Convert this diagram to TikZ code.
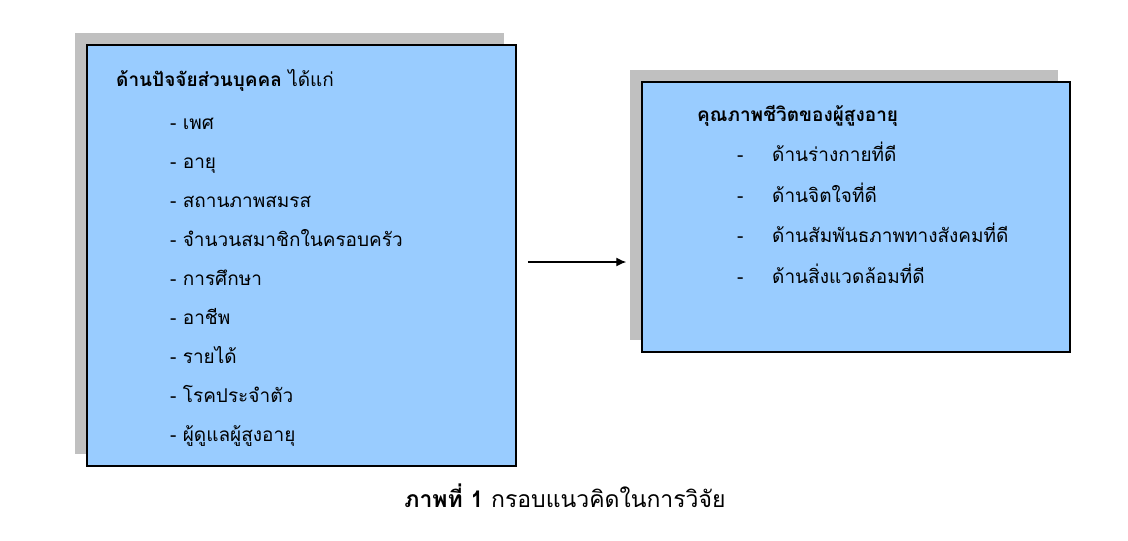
\documentclass[tikz,border=0pt]{standalone}
\usepackage{fontspec}
\setmainfont[Script=Thai]{Loma}
\usetikzlibrary{arrows.meta, positioning, shadows}
\definecolor{paleblue}{HTML}{99CCFF}
\definecolor{shadowgrey}{HTML}{C0C0C0}

\begin{document}
\begin{tikzpicture}[x=1pt, y=-1pt, node distance=39pt]
\tikzstyle{panel} = [rectangle, draw=black, line width=1.5pt, fill=paleblue, drop shadow={shadow xshift=-12pt, shadow yshift=12pt, fill=shadowgrey, opacity=1}]
\tikzstyle{head} = [text width=320pt, align=left, inner sep=0pt, text height=14pt, text depth=6pt, font=\fontsize{19}{22}\selectfont\bfseries]
\tikzstyle{item} = [head, font=\fontsize{19}{22}\selectfont]
\tikzstyle{arrow} = [-{Latex[length=10pt, width=9pt]}, line width=1.3pt]

\useasboundingbox (0,0) rectangle (1128,541);

\node (factors) [panel, minimum width=429pt, minimum height=421pt] at (301.5,255.5) {};
\node (quality) [panel, minimum width=428pt, minimum height=270pt] at (856,217) {};

\node (fhead) [head, anchor=west] at (116,82) {ด้านปัจจัยส่วนบุคคล \textmd{ได้แก่}};
\node (f1) [item, below of=fhead, xshift=54pt, yshift=-4pt] {- เพศ};
\node (f2) [item, below of=f1] {- อายุ};
\node (f3) [item, below of=f2] {- สถานภาพสมรส};
\node (f4) [item, below of=f3] {- จำนวนสมาชิกในครอบครัว};
\node (f5) [item, below of=f4] {- การศึกษา};
\node (f6) [item, below of=f5] {- อาชีพ};
\node (f7) [item, below of=f6] {- รายได้};
\node (f8) [item, below of=f7] {- โรคประจำตัว};
\node (f9) [item, below of=f8] {- ผู้ดูแลผู้สูงอายุ};

\node (qhead) [head, anchor=west] at (697,117) {คุณภาพชีวิตของผู้สูงอายุ};
\node (q1) [item, below of=qhead, xshift=40pt, node distance=40.5pt] {\makebox[35pt][l]{-}ด้านร่างกายที่ดี};
\node (q2) [item, below of=q1, node distance=40.5pt] {\makebox[35pt][l]{-}ด้านจิตใจที่ดี};
\node (q3) [item, below of=q2, node distance=40.5pt] {\makebox[35pt][l]{-}ด้านสัมพันธภาพทางสังคมที่ดี};
\node (q4) [item, below of=q3, node distance=40.5pt] {\makebox[35pt][l]{-}ด้านสิ่งแวดล้อมที่ดี};

\draw [arrow] ([xshift=11pt, yshift=-6.5pt]factors.east) -- ([xshift=-15pt, yshift=-45pt]quality.west);

\node (caption) [font=\fontsize{23}{26}\selectfont] at (565,496) {\textbf{ภาพที่ 1} กรอบแนวคิดในการวิจัย};

\end{tikzpicture}
\end{document}
